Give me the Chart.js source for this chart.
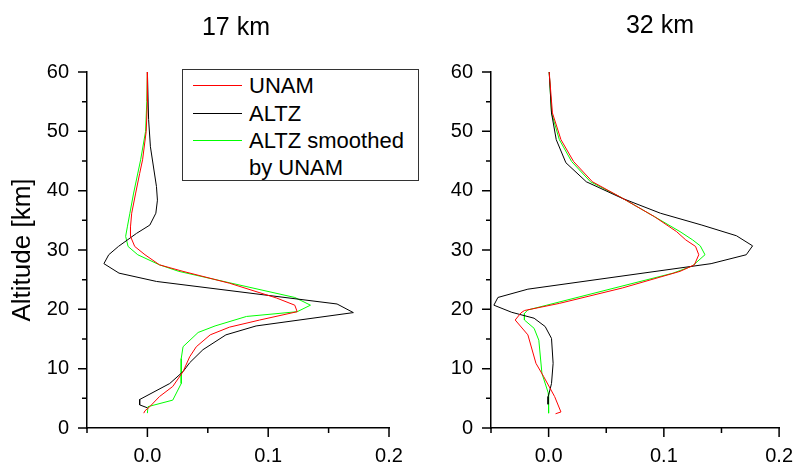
<!DOCTYPE html>
<html>
<head>
<meta charset="utf-8">
<script src="https://cdn.jsdelivr.net/npm/chart.js@4.4.1/dist/chart.umd.min.js"></script>
<style>
  html, body { margin: 0; padding: 0; background: #fff; }
  #wrap { position: relative; width: 809px; height: 466px; overflow: hidden; font-family: "Liberation Sans", Arial, sans-serif; color: #000; }
  canvas { position: absolute; top: 0; }
  #c17 { left: 0; }
  #c32 { left: 430px; }
  .title { position: absolute; font-size: 25px; line-height: 25px; white-space: nowrap; transform: translateX(-50%); }
  #legend { position: absolute; left: 182px; top: 69px; width: 235px; height: 110px; border: 1px solid #333; background: #fff; }
  #legend .ln { position: absolute; left: 10px; width: 49px; height: 0; border-top: 1px solid; }
  #legend .tx { position: absolute; left: 66px; font-size: 22px; line-height: 22px; white-space: nowrap; }
</style>
</head>
<body>
<div id="wrap">
  <canvas id="c17" width="430" height="466"></canvas>
  <canvas id="c32" width="379" height="466"></canvas>
  <div class="title" id="t17" style="left:236px; top:14px;"></div>
  <div class="title" id="t32" style="left:660px; top:12px;"></div>
  <div id="legend"></div>
</div>
<script>
// titres des panneaux et légende
const panelTitles = ['17 km', '32 km'];
const seriesNames = ['UNAM', 'ALTZ', 'ALTZ smoothed\nby UNAM'];
const seriesColors = ['#ff0000', '#000000', '#00ff00'];

// graduations
const xTicks = [-0.05, 0, 0.05, 0.1, 0.15, 0.2];
const xLabelTicks = [0, 0.1, 0.2];
const yTicks = [0, 5, 10, 15, 20, 25, 30, 35, 40, 45, 50, 55, 60];
const yLabelTicks = [0, 10, 20, 30, 40, 50, 60];

// --- 17 km ---
const altUnam17 = [60, 55, 50, 45.2, 42.9, 39.6, 36.2, 33.9, 32.3, 30.6, 29.2, 27.5, 26.4, 24.4, 21.9, 20.7, 19.6, 18.2, 17.0, 15.7, 13.7, 12.0, 9.5, 7.0, 5.3, 3.6, 2.9, 2.5];
const unam17 = [0, 0, -0.001, -0.004, -0.0064, -0.0097, -0.013, -0.014, -0.014, -0.0105, -0.002, 0.010, 0.0295, 0.068, 0.107, 0.122, 0.124, 0.093, 0.068, 0.052, 0.0405, 0.035, 0.0295, 0.021, 0.010, 0.002, -0.002, -0.003];

const altAltz17 = [60, 52, 47.4, 40.7, 38.4, 36.2, 34.2, 32.8, 30.6, 29.2, 27.7, 26.1, 24.7, 20.9, 19.45, 17.2, 15.7, 13.2, 11.0, 9.5, 7.5, 4.8, 3.9, 3.4];
const altz17 = [0, 0.001, 0.0025, 0.0075, 0.0083, 0.007, 0.002, -0.009, -0.024, -0.032, -0.036, -0.0235, 0.0075, 0.157, 0.1705, 0.090, 0.065, 0.046, 0.035, 0.0295, 0.0185, -0.0064, -0.0064, 0];

const altSmooth17 = [60, 55, 50, 45.2, 39.6, 36.2, 33.9, 32.3, 30.6, 29.2, 27.5, 26.4, 22.0, 20.7, 19.6, 18.8, 17.2, 16.1, 13.7, 11.7, 7.5, 4.7, 3.6, 2.5];
const smooth17 = [0, -0.0005, -0.0015, -0.0056, -0.0114, -0.0145, -0.0166, -0.018, -0.016, -0.008, 0.010, 0.026, 0.122, 0.135, 0.124, 0.082, 0.056, 0.042, 0.0295, 0.028, 0.028, 0.021, 0.0005, 0];

// --- 32 km ---
const altUnam32 = [60, 53.1, 48.6, 44.9, 41.5, 39.0, 35.6, 33.1, 31.7, 30.6, 29.2, 27.5, 26.4, 23.6, 21.0, 19.8, 19.4, 18.2, 15.7, 10.9, 8.7, 5.3, 2.7, 2.4];
const unam32 = [0.0005, 0.0033, 0.0107, 0.0217, 0.038, 0.0616, 0.092, 0.111, 0.119, 0.1275, 0.1303, 0.1265, 0.114, 0.064, 0.0093, -0.021, -0.024, -0.029, -0.018, -0.011, -0.0044, 0.0052, 0.0107, 0.006];

const altAltz32 = [60, 53.1, 48.6, 44.7, 41.5, 38.7, 36.2, 34.2, 32.4, 30.7, 29.2, 27.7, 23.4, 22.0, 20.7, 19.5, 18.5, 17.1, 15.1, 10.9, 7.5, 5.3, 4.0];
const altz32 = [0.0005, 0.0025, 0.0066, 0.015, 0.0327, 0.064, 0.097, 0.133, 0.163, 0.177, 0.1715, 0.141, -0.018, -0.044, -0.0475, -0.032, -0.0126, -0.003, 0.0025, 0.0039, 0.0025, -0.0003, -0.0005];

const altSmooth32 = [60, 53.1, 48.6, 44.9, 41.5, 39.0, 35.6, 33.1, 31.7, 30.7, 29.2, 27.3, 26.1, 20.7, 19.9, 19.3, 18.2, 16.8, 14.8, 9.2, 5.9, 2.5];
const smooth32 = [0.0005, 0.0025, 0.0093, 0.020, 0.0363, 0.0616, 0.092, 0.114, 0.125, 0.1316, 0.1357, 0.1247, 0.108, -0.0016, -0.018, -0.021, -0.021, -0.0126, -0.0085, -0.0058, -0.0003, 0];

const fontTicks = { family: '"Liberation Sans", Arial, sans-serif', size: 20 };
const near = (list, v) => list.some(t => Math.abs(t - v) < 1e-9);

function toPoints(alts, vals) {
  return vals.map((v, i) => ({ x: v, y: alts[i] }));
}

// petits traits de graduation (majeurs plus longs)
const tickMarks = {
  id: 'tickMarks',
  afterDraw(chart) {
    const { ctx, scales: { x, y } } = chart;
    ctx.save();
    ctx.strokeStyle = '#000';
    ctx.lineWidth = 1.5;
    ctx.beginPath();
    xTicks.forEach(v => {
      const px = x.getPixelForValue(v);
      const len = near(xLabelTicks, v) ? 9 : 5;
      ctx.moveTo(px, y.bottom);
      ctx.lineTo(px, y.bottom + len);
    });
    yTicks.forEach(v => {
      const py = y.getPixelForValue(v);
      const len = near(yLabelTicks, v) ? 9 : 5;
      ctx.moveTo(x.left, py);
      ctx.lineTo(x.left - len, py);
    });
    ctx.stroke();
    ctx.restore();
  }
};

function makePanel(id, series, yWidth, padRight, showYTitle) {
  return new Chart(document.getElementById(id), {
    type: 'scatter',
    data: {
      datasets: series.map((s, i) => ({
        label: seriesNames[i],
        data: toPoints(s[0], s[1]),
        showLine: true,
        borderColor: seriesColors[i],
        borderWidth: 1,
        pointRadius: 0,
        tension: 0
      }))
    },
    options: {
      responsive: false,
      animation: false,
      layout: { padding: { left: 0, right: padRight, top: 72, bottom: 0 } },
      plugins: { legend: { display: false }, tooltip: { enabled: false } },
      scales: {
        x: {
          type: 'linear',
          min: -0.05,
          max: 0.2,
          afterBuildTicks: s => { s.ticks = xTicks.map(v => ({ value: v })); },
          afterFit: s => { s.height = 38; },
          grid: { display: false, drawTicks: false },
          border: { display: true, color: '#000', width: 1.5 },
          ticks: {
            autoSkip: false,
            maxRotation: 0,
            padding: 16,
            color: '#000',
            font: fontTicks,
            callback: v => near(xLabelTicks, v) ? v.toFixed(1) : ''
          }
        },
        y: {
          type: 'linear',
          min: 0,
          max: 60,
          afterBuildTicks: s => { s.ticks = yTicks.map(v => ({ value: v })); },
          afterFit: s => { s.width = yWidth; },
          grid: { display: false, drawTicks: false },
          border: { display: true, color: '#000', width: 1.5 },
          title: {
            display: showYTitle,
            text: 'Altitude [km]',
            color: '#000',
            font: { family: '"Liberation Sans", Arial, sans-serif', size: 26 },
            padding: { top: 7, bottom: 0 }
          },
          ticks: {
            autoSkip: false,
            padding: 18,
            color: '#000',
            font: fontTicks,
            callback: v => near(yLabelTicks, v) ? String(v) : ''
          }
        }
      }
    },
    plugins: [tickMarks]
  });
}

makePanel('c17', [[altUnam17, unam17], [altAltz17, altz17], [altSmooth17, smooth17]], 87, 41, true);
makePanel('c32', [[altUnam32, unam32], [altAltz32, altz32], [altSmooth32, smooth32]], 61, 15, false);

document.getElementById('t17').textContent = panelTitles[0];
document.getElementById('t32').textContent = panelTitles[1];

// légende (dans le panneau de gauche)
const legend = document.getElementById('legend');
const lineTops = [15, 43, 70];
const textTops = [5, 33, 60];
seriesNames.forEach((name, i) => {
  const ln = document.createElement('div');
  ln.className = 'ln';
  ln.style.top = lineTops[i] + 'px';
  ln.style.borderColor = seriesColors[i];
  legend.appendChild(ln);
  name.split('\n').forEach((part, j) => {
    const tx = document.createElement('div');
    tx.className = 'tx';
    tx.style.top = (textTops[i] + j * 27) + 'px';
    tx.textContent = part;
    legend.appendChild(tx);
  });
});
</script>
</body>
</html>
